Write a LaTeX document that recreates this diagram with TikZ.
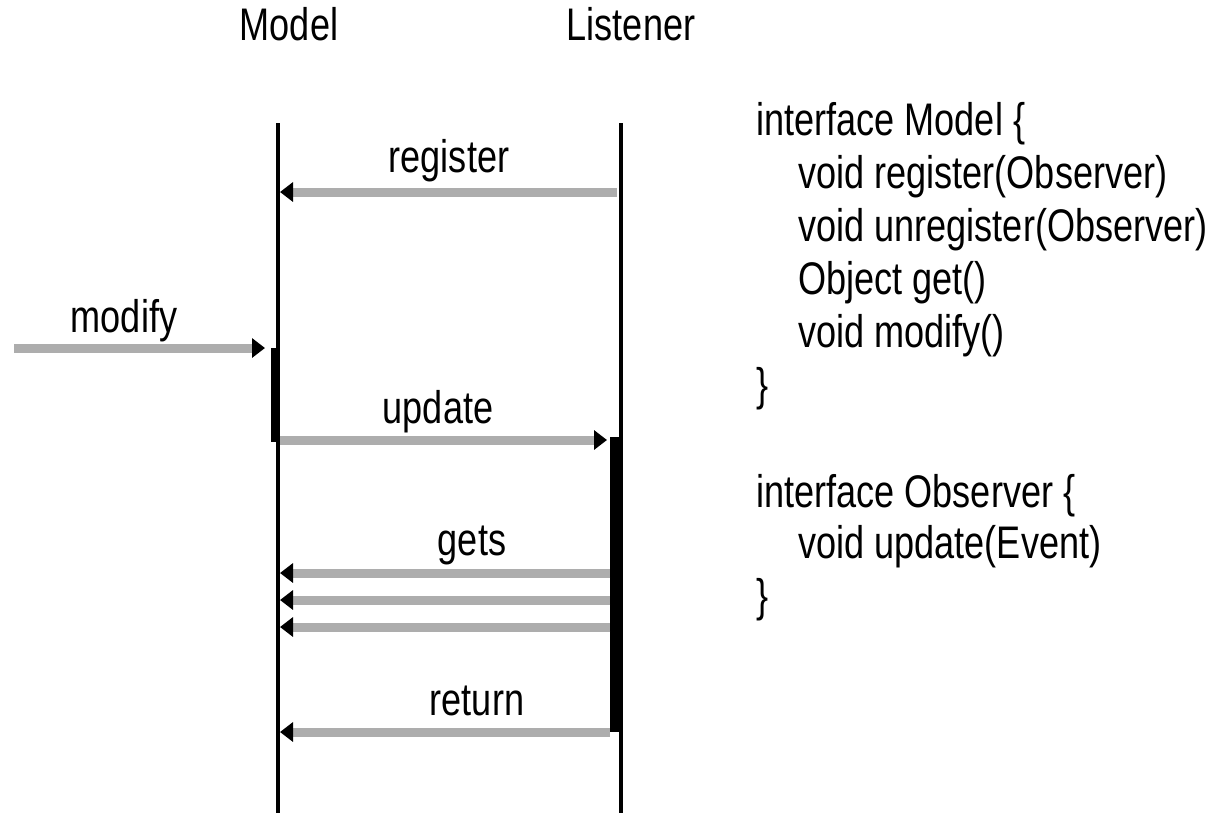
\documentclass[tikz,border=0pt]{standalone}
\usepackage{fontspec}
\setmainfont{Liberation Sans}[FakeStretch=0.79]
\usepackage{tikz}
\usetikzlibrary{positioning,arrows.meta,calc}
\definecolor{msggray}{RGB}{173,173,173}

\begin{document}
\begin{tikzpicture}[
  x=0.2mm, y=-0.2mm,
  font=\fontsize{26}{30}\selectfont,
  life/.style = {line width=0.8mm},
  act/.style  = {fill=black},
  msg/.style  = {draw=msggray, line width=1.8mm,
                 -{Triangle[color=black, length=2.6mm, width=3.8mm]}},
  lbl/.style  = {inner sep=0pt, anchor=base},
  code/.style = {inner sep=0pt, anchor=base west}
]
\useasboundingbox (0,0) rectangle (1215,813);

% ---------- lifelines ------------------------------------------------------
\node[lbl] (mdl) at (289,40) {Model};
\node[lbl] (lst) at (631,40) {Listener};

\coordinate (mtop) at (278,123);
\coordinate (mbot) at (278,813);
\coordinate (ltop) at (621,123);
\coordinate (lbot) at (621,813);

\draw[life] (mtop) -- (mbot);
\draw[life] (ltop) -- (lbot);

% activations
\fill[act] (271,348) rectangle (279,442);
\fill[act] (610,437) rectangle (623,732);

% ---------- messages -------------------------------------------------------
\coordinate (src) at (14,348);
\coordinate (reg-l) at (617,192);  \coordinate (reg-m) at (280,192);
\coordinate (mod-m) at (265,348);
\coordinate (upd-m) at (280,440);  \coordinate (upd-l) at (607,440);
\coordinate (ga-l) at (610,573);   \coordinate (ga-m) at (280,573);
\coordinate (gb-l) at (610,600);   \coordinate (gb-m) at (280,600);
\coordinate (gc-l) at (610,627);   \coordinate (gc-m) at (280,627);
\coordinate (ret-l) at (610,732);  \coordinate (ret-m) at (280,732);

\draw[msg] (reg-l) -- (reg-m);
\draw[msg] (src) -- (mod-m);
\draw[msg] (upd-m) -- (upd-l);
\draw[msg] (ga-l) -- (ga-m);
\draw[msg] (gb-l) -- (gb-m);
\draw[msg] (gc-l) -- (gc-m);
\draw[msg] (ret-l) -- (ret-m);

\node[lbl] (tregister) at (449,172) {register};
\node[lbl] (tmodify)   at (124,332) {modify};
\node[lbl] (tupdate)   at (438,423) {update};
\node[lbl] (tgets)     at (472,555) {gets};
\node[lbl] (treturn)   at (477,715) {return};

% ---------- interfaces -----------------------------------------------------
\node[code] (m1) at (756,135) {interface Model \{};
\node[code] (m2) at (798,188) {void register(Observer)};
\node[code] (m3) at (798,241) {void unregister(Observer)};
\node[code] (m4) at (798,294) {Object get()};
\node[code] (m5) at (798,347) {void modify()};
\node[code] (m6) at (756,400) {\}};

\node[code] (o1) at (756,507) {interface Observer \{};
\node[code] (o2) at (798,558) {void update(Event)};
\node[code] (o3) at (756,611) {\}};

\end{tikzpicture}
\end{document}
